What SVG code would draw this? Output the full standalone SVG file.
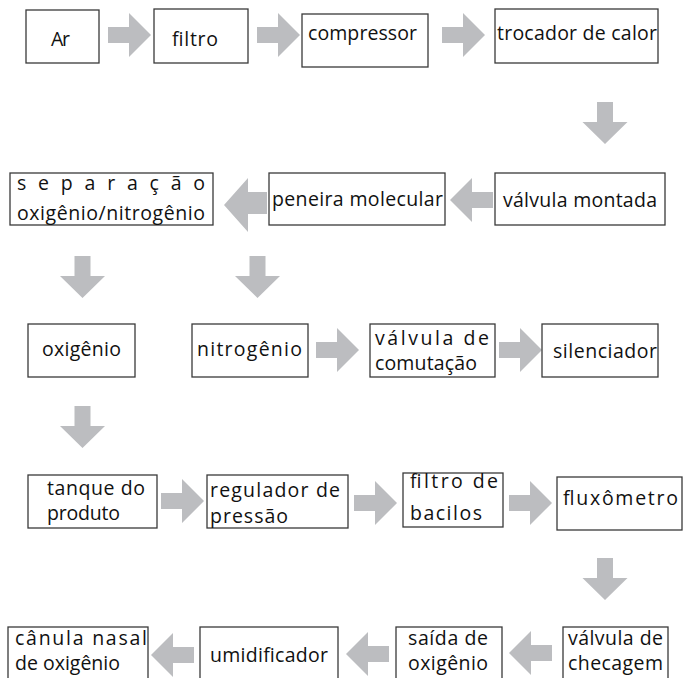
<svg xmlns="http://www.w3.org/2000/svg" width="691" height="678" viewBox="0 0 691 678">
<style>
.box{fill:#fff;stroke:#3a3a3a;stroke-width:1.3}
.t{font-family:"Open Sans","Liberation Sans",sans-serif;font-size:19.5px;fill:#111}
.arr{fill:#BCBDC0}
</style>
<defs>
<path id="ar" class="arr" d="M0,-8 H21 V-22 L43,0 L21,22 V8 H0 Z"/>
<path id="al" class="arr" d="M0,0 L22,-22 V-8 H43 V8 H22 V22 Z"/>
<path id="ad" class="arr" d="M-8,0 H8 V20 H22.5 L0,42 L-22.5,20 H-8 Z"/>
</defs>
<rect width="691" height="678" fill="#fff"/>
<g id="connectors">
<use href="#ar" x="108" y="35"/>
<use href="#ar" x="257" y="35"/>
<use href="#ar" x="442" y="35"/>
<use href="#ad" x="605" y="102"/>
<path class="arr" d="M224,205 L248,178 V192 H267 V214 H248 V232 Z"/>
<use href="#al" x="450" y="200"/>
<use href="#ad" x="82.5" y="256"/>
<use href="#ad" x="257.5" y="256"/>
<use href="#ar" x="316" y="350"/>
<use href="#ar" x="499" y="350"/>
<use href="#ad" x="82.5" y="406"/>
<use href="#ar" x="161" y="501"/>
<use href="#ar" x="354" y="503"/>
<use href="#ar" x="509" y="503"/>
<use href="#ad" x="605" y="558"/>
<use href="#al" x="151" y="655"/>
<use href="#al" x="346" y="654"/>
<use href="#al" x="509" y="653"/>
</g>
<g id="n-ar"><rect class="box" x="26" y="10" width="73" height="53"/><text class="t" x="51" y="46" textLength="19">Ar</text></g>
<g id="n-filtro"><rect class="box" x="154" y="9" width="94" height="54"/><text class="t" x="172" y="46" textLength="46">filtro</text></g>
<g id="n-compressor"><rect class="box" x="302" y="14" width="126" height="53"/><text class="t" x="308" y="40" textLength="109">compressor</text></g>
<g id="n-trocador"><rect class="box" x="495" y="9" width="163" height="54"/><text class="t" x="497" y="40" textLength="160">trocador de calor</text></g>
<g id="n-separacao"><rect class="box" x="10" y="173" width="203" height="52"/><text class="t" x="17" y="190" textLength="188">separação</text><text class="t" x="17" y="220" textLength="188">oxigênio/nitrogênio</text></g>
<g id="n-peneira"><rect class="box" x="269" y="173" width="176" height="52"/><text class="t" x="272" y="206" textLength="171">peneira molecular</text></g>
<g id="n-valvula-montada"><rect class="box" x="495" y="173" width="170" height="52"/><text class="t" x="503" y="207" textLength="154">válvula montada</text></g>
<g id="n-oxigenio"><rect class="box" x="28" y="324" width="107" height="53"/><text class="t" x="42" y="356" textLength="79">oxigênio</text></g>
<g id="n-nitrogenio"><rect class="box" x="192" y="324" width="116" height="53"/><text class="t" x="197" y="356" textLength="105">nitrogênio</text></g>
<g id="n-comutacao"><rect class="box" x="370" y="324" width="125" height="53"/><text class="t" x="375" y="345" textLength="114">válvula de</text><text class="t" x="375" y="370" textLength="102">comutação</text></g>
<g id="n-silenciador"><rect class="box" x="542" y="324" width="116" height="53"/><text class="t" x="553" y="358" textLength="104">silenciador</text></g>
<g id="n-tanque"><rect class="box" x="28" y="475" width="129" height="53"/><text class="t" x="47" y="495" textLength="98">tanque do</text><text class="t" x="47" y="520" textLength="73">produto</text></g>
<g id="n-regulador"><rect class="box" x="207" y="475" width="141" height="53"/><text class="t" x="210" y="497" textLength="130">regulador de</text><text class="t" x="210" y="523" textLength="78">pressão</text></g>
<g id="n-filtro-bacilos"><rect class="box" x="403" y="473" width="100" height="54"/><text class="t" x="410" y="488" textLength="88">filtro de</text><text class="t" x="410" y="520" textLength="72">bacilos</text></g>
<g id="n-fluxometro"><rect class="box" x="557" y="477" width="125" height="53"/><text class="t" x="563" y="505" textLength="115">fluxômetro</text></g>
<g id="n-canula"><rect class="box" x="8" y="627" width="140" height="60"/><text class="t" x="15" y="645" textLength="132">cânula nasal</text><text class="t" x="15" y="670" textLength="105">de oxigênio</text></g>
<g id="n-umidificador"><rect class="box" x="200" y="627" width="138" height="60"/><text class="t" x="210" y="662" textLength="118">umidificador</text></g>
<g id="n-saida"><rect class="box" x="396" y="627" width="106" height="60"/><text class="t" x="408" y="645" textLength="80">saída de</text><text class="t" x="408" y="670" textLength="80">oxigênio</text></g>
<g id="n-checagem"><rect class="box" x="563" y="627" width="105" height="60"/><text class="t" x="568" y="645" textLength="95">válvula de</text><text class="t" x="568" y="670" textLength="95">checagem</text></g>
</svg>
